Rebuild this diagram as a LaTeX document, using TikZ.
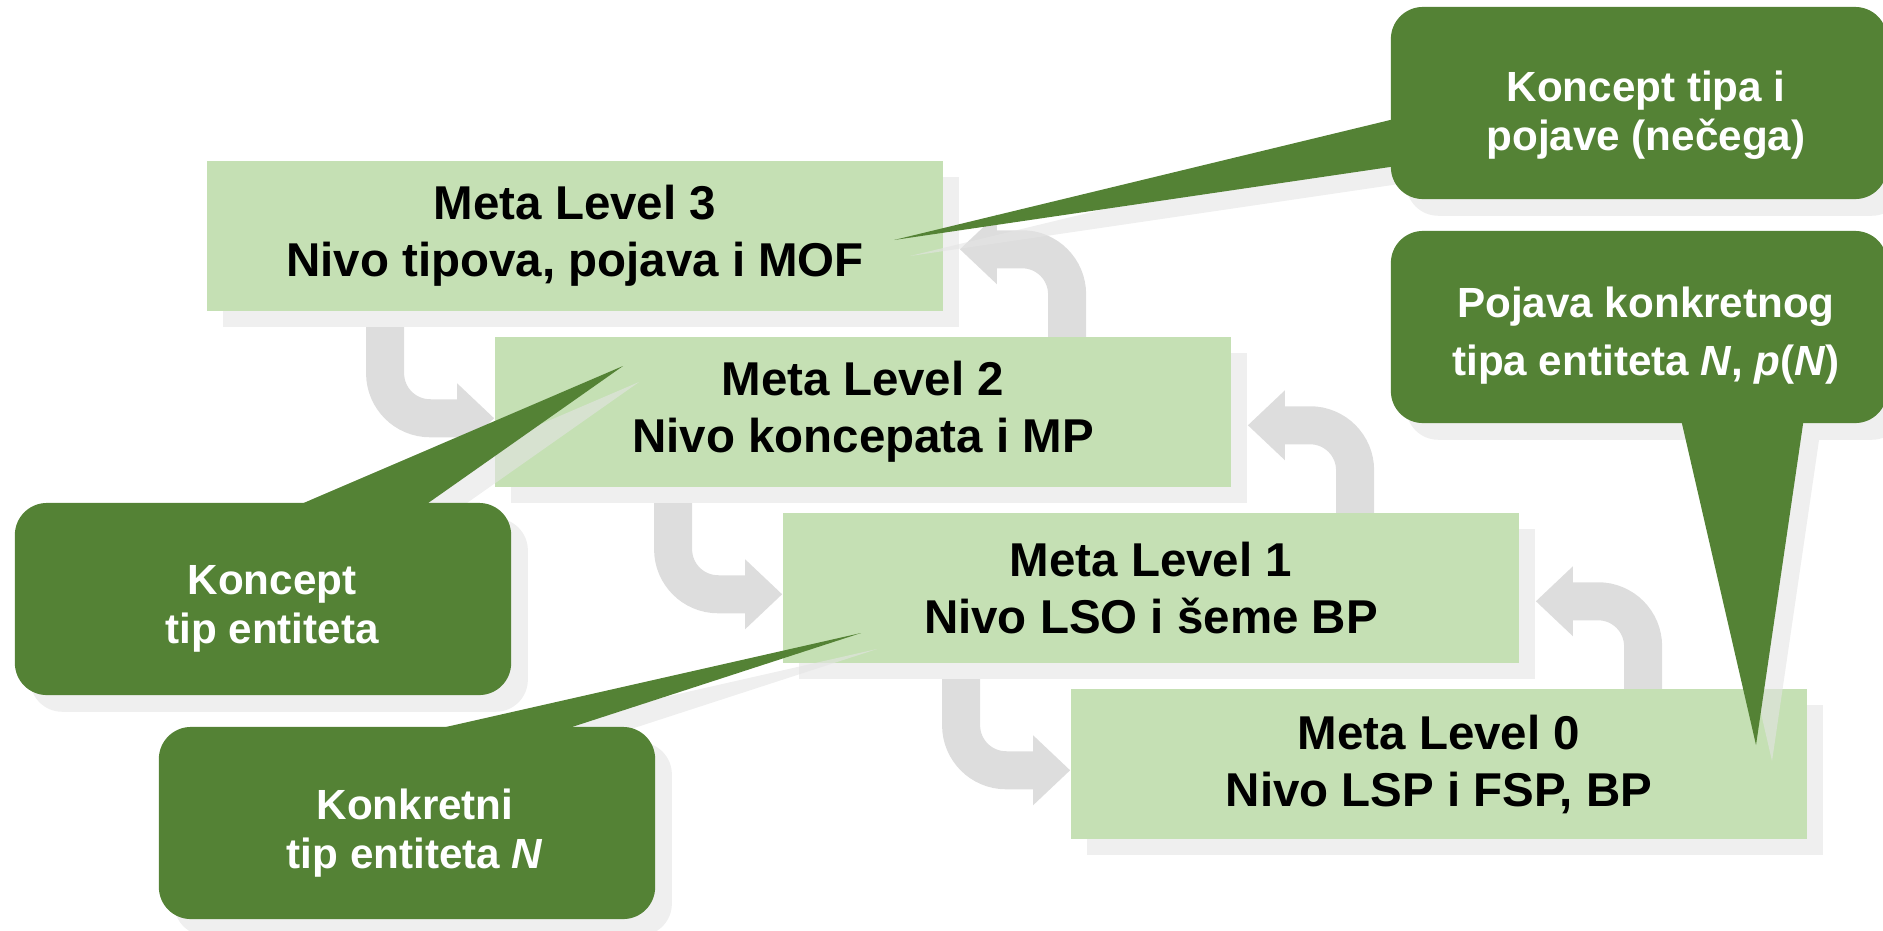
\documentclass[tikz,border=0pt]{standalone}
\usepackage{fontspec}
\setmainfont{Liberation Sans}
\usetikzlibrary{calc,shadows}
\definecolor{lvlgreen}{HTML}{C5E0B4}
\definecolor{notegreen}{HTML}{548235}
\definecolor{flowgray}{HTML}{DDDDDD}
\definecolor{boxshadow}{HTML}{EFEFEF}
\definecolor{noteshadow}{HTML}{E4E4E4}
\pgfdeclarelayer{flows}
\pgfdeclarelayer{notes shadow}
\pgfdeclarelayer{notes}
\pgfsetlayers{flows,main,notes shadow,notes}
\tikzset{
	flow/.style = {draw=flowgray, line width=0.38cm, rounded corners=0.45cm},
	flowhead/.style = {fill=flowgray},
}

\begin{document}
\begin{tikzpicture}[x=0.01cm, y=-0.01cm,
	level/.style = {fill=lvlgreen, align=center, minimum width=7.36cm, minimum height=1.5cm, inner sep=0,
		font={\fontsize{13.5}{16.2}\selectfont\bfseries},
		drop shadow={shadow xshift=0.16cm, shadow yshift=-0.16cm, fill=boxshadow, opacity=1}},
	note/.style = {fill=notegreen, rounded corners=0.32cm, minimum width=4.96cm, minimum height=1.92cm, inner sep=0},
	notetext/.style = {text=white, align=center, inner sep=0, font={\fontsize{12}{14}\selectfont\bfseries}},
	tail/.style = {fill=notegreen},
	tailshadow/.style = {fill=noteshadow}]
\useasboundingbox (0,0) rectangle (1883,930);
\node[level] (l3) at (575,236) {Meta Level 3\\Nivo tipova, pojava i MOF};
\node[level] (l2) at (863,412) {Meta Level 2\\Nivo koncepata i MP};
\node[level] (l1) at (1151,588) {Meta Level 1\\Nivo LSO i šeme BP};
\node[level] (l0) at (1439,764) {Meta Level 0\\Nivo LSP i FSP, BP};

\begin{pgfonlayer}{flows}
\draw[flow] ($(l3.south west)+(179,-10)$) |- ($(l2.north west)+(-34,82)$);
\fill[flowhead] ($(l2.north west)+(-37,47)$) -- ($(l2.north west)+(0,82)$) -- ($(l2.north west)+(-37,117)$) -- cycle;
\draw[flow] ($(l2.south west)+(179,-10)$) |- ($(l1.north west)+(-34,82)$);
\fill[flowhead] ($(l1.north west)+(-37,47)$) -- ($(l1.north west)+(0,82)$) -- ($(l1.north west)+(-37,117)$) -- cycle;
\draw[flow] ($(l1.south west)+(179,-10)$) |- ($(l0.north west)+(-34,82)$);
\fill[flowhead] ($(l0.north west)+(-37,47)$) -- ($(l0.north west)+(0,82)$) -- ($(l0.north west)+(-37,117)$) -- cycle;
\draw[flow] ($(l2.north west)+(573,10)$) |- ($(l3.north east)+(50,89)$);
\fill[flowhead] ($(l3.north east)+(53,54)$) -- ($(l3.north east)+(16,89)$) -- ($(l3.north east)+(53,124)$) -- cycle;
\draw[flow] ($(l1.north west)+(573,10)$) |- ($(l2.north east)+(50,89)$);
\fill[flowhead] ($(l2.north east)+(53,54)$) -- ($(l2.north east)+(16,89)$) -- ($(l2.north east)+(53,124)$) -- cycle;
\draw[flow] ($(l0.north west)+(573,10)$) |- ($(l1.north east)+(50,89)$);
\fill[flowhead] ($(l1.north east)+(53,54)$) -- ($(l1.north east)+(16,89)$) -- ($(l1.north east)+(53,124)$) -- cycle;
\end{pgfonlayer}

\begin{pgfonlayer}{notes}
\node[note] (nTop) at (1639,103) {};
\node[notetext] (nTopText) at ($(nTop)+(7,12)$) {Koncept tipa i\\pojave (nečega)};
\coordinate (nTopTip) at (894,240);
\fill[tail] ($(nTop.west)+(10,14.6)$) -- (nTopTip) -- ($(nTop.west)+(10,62.5)$) -- cycle;

\node[note] (nPojava) at (1639,327) {};
\node[notetext, font={\fontsize{12}{16.5}\selectfont\bfseries}] (nPojavaText) at ($(nPojava)+(7,9)$) {Pojava konkretnog\\tipa entiteta \textit{N}, \textit{p}(\textit{N})};
\coordinate (nPojavaTip) at (1756,745);
\fill[tail] ($(nPojava.south)+(40.7,-10)$) -- (nPojavaTip) -- ($(nPojava.south)+(165.5,-10)$) -- cycle;

\node[note] (nKoncept) at (263,599) {};
\node[notetext] (nKonceptText) at ($(nKoncept)+(9,10)$) {Koncept\\tip entiteta};
\coordinate (nKonceptTip) at (623,366);
\fill[tail] ($(nKoncept.north)+(19,10)$) -- (nKonceptTip) -- ($(nKoncept.north)+(152,10)$) -- cycle;

\node[note] (nKonkretni) at (407,823) {};
\node[notetext] (nKonkretniText) at ($(nKonkretni)+(8,10)$) {Konkretni\\tip entiteta \textit{N}};
\coordinate (nKonkretniTip) at (861,633);
\fill[tail] ($(nKonkretni.north)+(-2,10)$) -- (nKonkretniTip) -- ($(nKonkretni.north)+(136.5,10)$) -- cycle;
\end{pgfonlayer}

\begin{pgfonlayer}{notes shadow}
\begin{scope}[transparency group, opacity=0.6]
\fill[tailshadow, rounded corners=0.32cm] ($(nTop.north west)+(16,16)$) rectangle ($(nTop.south east)+(16,16)$);
\fill[tailshadow] ($(nTop.west)+(26,30.6)$) -- ($(nTopTip)+(16,16)$) -- ($(nTop.west)+(26,78.5)$) -- cycle;
\fill[tailshadow, rounded corners=0.32cm] ($(nPojava.north west)+(16,16)$) rectangle ($(nPojava.south east)+(16,16)$);
\fill[tailshadow] ($(nPojava.south)+(56.7,6)$) -- ($(nPojavaTip)+(16,16)$) -- ($(nPojava.south)+(181.5,6)$) -- cycle;
\fill[tailshadow, rounded corners=0.32cm] ($(nKoncept.north west)+(16,16)$) rectangle ($(nKoncept.south east)+(16,16)$);
\fill[tailshadow] ($(nKoncept.north)+(35,26)$) -- ($(nKonceptTip)+(16,16)$) -- ($(nKoncept.north)+(168,26)$) -- cycle;
\fill[tailshadow, rounded corners=0.32cm] ($(nKonkretni.north west)+(16,16)$) rectangle ($(nKonkretni.south east)+(16,16)$);
\fill[tailshadow] ($(nKonkretni.north)+(14,26)$) -- ($(nKonkretniTip)+(16,16)$) -- ($(nKonkretni.north)+(152.5,26)$) -- cycle;
\end{scope}
\end{pgfonlayer}
\end{tikzpicture}
\end{document}
